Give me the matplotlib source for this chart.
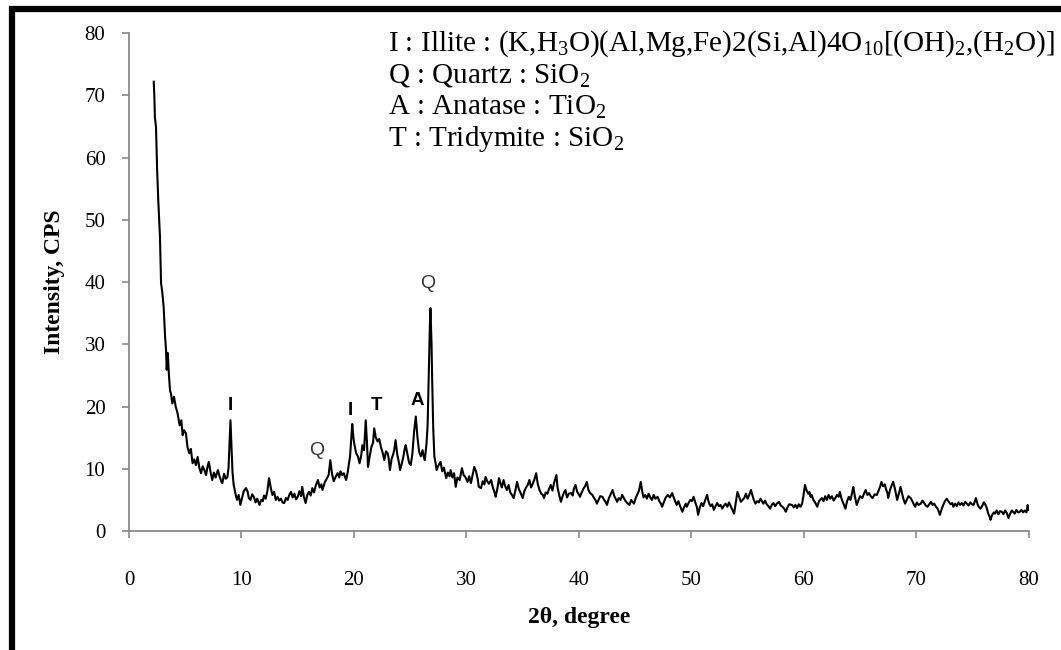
import matplotlib
matplotlib.use("Agg")
import matplotlib.pyplot as plt
from matplotlib.patches import Rectangle

plt.rcParams['font.family'] = ['Liberation Serif', 'DejaVu Serif']
plt.rcParams['mathtext.fontset'] = 'custom'
plt.rcParams['mathtext.rm'] = 'Liberation Serif'
plt.rcParams['mathtext.it'] = 'Liberation Serif:italic'
plt.rcParams['mathtext.bf'] = 'Liberation Serif:bold'

# XRD scan, 2-theta (degree) vs intensity (CPS)
two_theta = [
    2.20, 2.25, 2.30, 2.40, 2.50, 2.60, 2.70, 2.75, 2.85, 2.95, 3.08, 3.20, 3.29, 3.35, 3.45, 3.55,
    3.65, 3.73, 3.85, 4.00, 4.15, 4.32, 4.50, 4.65, 4.77, 4.90, 5.06, 5.20, 5.36, 5.50, 5.65, 5.80,
    5.95, 6.10, 6.25, 6.40, 6.55, 6.70, 6.85, 7.00, 7.10, 7.25, 7.40, 7.55, 7.70, 7.90, 8.05, 8.20,
    8.30, 8.45, 8.60, 8.75, 8.85, 8.95, 9.02, 9.10, 9.20, 9.30, 9.45, 9.60, 9.75, 9.90, 10.05, 10.20,
    10.40, 10.55, 10.65, 10.80, 10.95, 11.10, 11.25, 11.40, 11.60, 11.75, 11.90, 12.00, 12.15, 12.30,
    12.45, 12.60, 12.75, 12.90, 13.05, 13.20, 13.35, 13.50, 13.65, 13.80, 13.95, 14.10, 14.25, 14.40,
    14.55, 14.70, 14.85, 15.00, 15.15, 15.30, 15.40, 15.55, 15.70, 15.85, 16.00, 16.15, 16.30, 16.45,
    16.60, 16.80, 16.95, 17.10, 17.20, 17.40, 17.55, 17.75, 17.90, 18.05, 18.20, 18.40, 18.55, 18.70,
    18.80, 18.95, 19.10, 19.30, 19.45, 19.55, 19.65, 19.75, 19.85, 19.95, 20.05, 20.20, 20.35, 20.50,
    20.65, 20.75, 20.90, 21.05, 21.15, 21.25, 21.40, 21.55, 21.70, 21.80, 21.95, 22.10, 22.25, 22.40,
    22.55, 22.70, 22.85, 23.00, 23.10, 23.20, 23.35, 23.50, 23.60, 23.70, 23.85, 24.00, 24.10, 24.25,
    24.40, 24.50, 24.60, 24.75, 24.90, 25.05, 25.20, 25.35, 25.50, 25.65, 25.80, 25.95, 26.10, 26.20,
    26.30, 26.45, 26.55, 26.65, 26.75, 26.80, 26.90, 26.95, 27.05, 27.15, 27.25, 27.35, 27.50, 27.70,
    27.85, 28.00, 28.20, 28.35, 28.50, 28.60, 28.75, 28.90, 29.05, 29.20, 29.40, 29.60, 29.75, 29.90,
    30.10, 30.25, 30.40, 30.55, 30.70, 30.85, 31.00, 31.10, 31.30, 31.45, 31.60, 31.70, 31.85, 32.00,
    32.20, 32.35, 32.50, 32.60, 32.75, 32.90, 33.05, 33.15, 33.30, 33.45, 33.60, 33.75, 33.90, 34.05,
    34.20, 34.35, 34.50, 34.65, 34.80, 35.00, 35.15, 35.30, 35.45, 35.60, 35.75, 35.90, 36.05, 36.20,
    36.35, 36.50, 36.65, 36.80, 36.90, 37.05, 37.20, 37.35, 37.50, 37.65, 37.80, 37.90, 38.00, 38.10,
    38.25, 38.40, 38.55, 38.70, 38.80, 38.95, 39.10, 39.30, 39.45, 39.55, 39.70, 39.85, 40.00, 40.10,
    40.25, 40.40, 40.55, 40.70, 40.85, 41.00, 41.20, 41.35, 41.50, 41.60, 41.75, 41.90, 42.10, 42.25,
    42.40, 42.50, 42.65, 42.80, 43.00, 43.15, 43.30, 43.40, 43.55, 43.70, 43.85, 44.00, 44.15, 44.30,
    44.50, 44.65, 44.80, 44.90, 45.05, 45.20, 45.35, 45.50, 45.65, 45.75, 45.90, 46.05, 46.20, 46.35,
    46.50, 46.65, 46.80, 47.00, 47.15, 47.30, 47.40, 47.55, 47.70, 47.90, 48.10, 48.30, 48.45, 48.60,
    48.70, 48.85, 49.00, 49.20, 49.35, 49.50, 49.60, 49.75, 49.90, 50.05, 50.20, 50.35, 50.50, 50.60,
    50.75, 50.90, 51.05, 51.20, 51.40, 51.55, 51.70, 51.85, 52.00, 52.15, 52.30, 52.45, 52.60, 52.75,
    52.90, 53.05, 53.20, 53.35, 53.50, 53.65, 53.80, 53.95, 54.10, 54.25, 54.40, 54.55, 54.70, 54.85,
    55.00, 55.15, 55.30, 55.45, 55.55, 55.70, 55.85, 56.00, 56.15, 56.30, 56.40, 56.55, 56.70, 56.85,
    57.00, 57.15, 57.30, 57.45, 57.60, 57.80, 57.95, 58.10, 58.25, 58.40, 58.55, 58.70, 58.95, 59.10,
    59.25, 59.40, 59.55, 59.70, 59.85, 59.95, 60.10, 60.25, 60.40, 60.50, 60.60, 60.70, 60.85, 61.00,
    61.20, 61.35, 61.60, 61.75, 61.90, 62.05, 62.20, 62.35, 62.50, 62.65, 62.80, 62.95, 63.10, 63.20,
    63.35, 63.50, 63.70, 63.85, 64.00, 64.15, 64.30, 64.40, 64.55, 64.70, 64.85, 65.00, 65.20, 65.35,
    65.50, 65.65, 65.80, 65.95, 66.10, 66.30, 66.50, 66.65, 66.80, 66.90, 67.05, 67.20, 67.30, 67.45,
    67.50, 67.65, 67.80, 67.95, 68.10, 68.30, 68.45, 68.60, 68.75, 68.85, 69.00, 69.15, 69.30, 69.50,
    69.65, 69.80, 69.90, 70.05, 70.20, 70.40, 70.55, 70.70, 70.85, 71.00, 71.15, 71.30, 71.45, 71.60,
    71.75, 71.90, 72.10, 72.25, 72.40, 72.55, 72.70, 72.90, 73.05, 73.20, 73.30, 73.45, 73.60, 73.75,
    73.90, 74.05, 74.20, 74.35, 74.50, 74.65, 74.80, 74.95, 75.10, 75.30, 75.45, 75.55, 75.70, 75.85,
    76.00, 76.10, 76.25, 76.40, 76.55, 76.60, 76.75, 76.90, 77.00, 77.15, 77.30, 77.45, 77.60, 77.75,
    77.90, 78.05, 78.20, 78.35, 78.50, 78.60, 78.75, 78.90, 79.05, 79.20, 79.35, 79.50, 79.65, 79.80,
    79.90, 80.00,
]
intensity = [
    72.2, 70.0, 66.5, 64.9, 58.0, 53.2, 49.0, 47.3, 39.8, 38.5, 36.0, 31.5, 29.1, 25.9, 28.6, 25.0,
    22.5, 22.1, 20.5, 21.6, 20.0, 18.9, 17.0, 17.8, 15.4, 16.2, 15.7, 13.5, 12.5, 13.2, 10.9, 11.5,
    10.6, 11.9, 10.2, 9.3, 10.4, 9.8, 9.0, 10.5, 11.1, 9.5, 8.2, 9.4, 8.6, 9.8, 8.8, 8.0,
    7.7, 9.2, 8.4, 8.7, 10.2, 14.5, 17.8, 14.0, 9.5, 7.5, 6.1, 5.0, 5.8, 4.2, 5.3, 6.4,
    6.9, 6.3, 5.3, 5.0, 5.9, 5.5, 4.6, 5.2, 4.2, 5.0, 4.8, 5.7, 5.2, 6.4,
    8.5, 7.0, 5.8, 6.3, 5.0, 5.5, 4.9, 5.2, 4.6, 4.5, 5.3, 5.0, 5.8, 6.3,
    5.4, 6.0, 5.1, 5.5, 6.4, 5.6, 7.1, 5.5, 4.5, 5.8, 6.3, 5.7, 6.9, 6.2,
    7.3, 8.2, 7.0, 7.5, 6.6, 7.8, 8.3, 9.0, 11.4, 9.2, 8.0, 8.8, 9.3, 8.6,
    9.6, 9.0, 9.3, 8.2, 9.5, 10.8, 11.9, 14.5, 17.2, 15.0, 13.8, 12.5, 12.0, 10.9,
    12.2, 13.8, 13.0, 17.8, 14.5, 10.3, 12.0, 13.5, 14.2, 16.5, 15.0, 14.4, 14.8, 13.5,
    12.6, 11.4, 12.8, 12.5, 11.5, 9.8, 11.6, 12.4, 13.2, 14.6, 12.3, 11.0, 9.8, 10.8,
    12.0, 13.1, 13.8, 12.4, 11.0, 10.6, 12.5, 16.0, 18.4, 15.0, 12.7, 12.0, 13.0, 12.0,
    11.4, 14.0, 17.0, 25.0, 33.0, 35.8, 30.0, 24.8, 16.5, 12.0, 11.0, 9.8, 10.5, 11.1,
    9.6, 10.2, 8.5, 9.4, 8.8, 9.8, 8.6, 9.3, 7.1, 8.6, 8.2, 10.1, 9.0, 8.7,
    7.9, 8.8, 7.7, 9.0, 10.3, 9.6, 8.4, 7.1, 6.9, 8.0, 7.5, 8.7, 8.0, 7.6,
    8.2, 7.0, 6.2, 5.5, 6.8, 8.5, 7.5, 7.0, 8.2, 7.2, 6.6, 7.4, 6.2, 5.8,
    5.3, 6.5, 7.9, 6.8, 6.2, 5.3, 6.4, 7.0, 7.4, 8.2, 7.0, 7.6, 8.3, 9.3,
    7.5, 6.6, 6.0, 5.8, 5.3, 6.2, 6.0, 6.8, 7.4, 6.5, 7.8, 8.4, 9.0, 7.0,
    5.8, 4.7, 5.6, 6.3, 6.6, 5.4, 6.0, 6.1, 5.7, 6.8, 7.4, 6.3, 5.9, 5.5,
    6.2, 6.8, 7.2, 7.9, 6.6, 6.1, 5.8, 5.3, 4.9, 4.4, 5.0, 5.6, 5.5, 5.0,
    4.6, 4.2, 5.2, 5.8, 6.6, 5.6, 5.1, 4.7, 5.3, 5.0, 5.8, 5.3, 4.8, 4.5,
    4.2, 5.0, 4.6, 4.4, 5.3, 5.9, 6.5, 7.9, 6.2, 5.4, 5.8, 5.2, 6.0, 5.4,
    5.0, 5.8, 5.2, 5.5, 4.8, 4.4, 3.9, 4.6, 5.3, 5.8, 5.4, 6.1, 5.3, 4.6,
    4.2, 4.8, 4.0, 3.1, 3.8, 4.4, 3.9, 4.5, 5.0, 4.8, 5.5, 4.6, 3.8, 2.6,
    3.8, 4.5, 4.0, 4.8, 5.8, 4.6, 4.0, 4.3, 3.4, 4.0, 4.5, 4.0, 4.2, 3.6,
    4.1, 4.4, 3.9, 4.6, 4.0, 3.4, 2.8, 4.5, 6.3, 5.5, 4.7, 5.0, 5.3, 6.0,
    5.2, 5.8, 6.6, 5.6, 5.0, 4.4, 4.8, 4.6, 5.2, 4.7, 4.4, 4.9, 4.3, 4.0,
    3.6, 4.2, 4.5, 4.0, 4.4, 4.7, 4.1, 3.9, 3.6, 3.1, 3.8, 4.3, 4.2, 3.8,
    4.2, 3.7, 4.3, 3.9, 4.4, 5.5, 7.4, 6.5, 6.0, 6.3, 5.5, 5.8, 5.0, 4.6,
    3.9, 4.8, 5.3, 4.8, 5.6, 5.0, 5.8, 5.2, 5.6, 4.9, 5.3, 5.8, 5.5, 6.3,
    5.2, 4.5, 3.6, 4.8, 5.5, 5.0, 6.2, 7.1, 5.5, 4.2, 4.9, 5.6, 5.3, 6.0,
    6.6, 5.8, 6.1, 5.6, 5.3, 5.9, 5.8, 6.5, 7.2, 7.9, 7.2, 7.5, 6.8, 6.0,
    5.3, 6.5, 7.3, 7.9, 6.8, 5.0, 6.0, 7.1, 6.0, 5.2, 4.4, 5.0, 5.6, 5.3,
    4.8, 4.2, 3.9, 4.6, 4.2, 4.4, 4.9, 4.5, 4.1, 3.9, 4.3, 4.7, 4.2, 4.4,
    3.9, 3.6, 2.6, 3.5, 4.2, 4.8, 5.2, 4.7, 4.3, 4.5, 3.9, 4.4, 4.0, 4.6,
    4.2, 4.5, 4.1, 4.7, 4.4, 4.1, 4.6, 4.3, 4.2, 5.3, 4.3, 3.9, 3.6, 4.0,
    4.6, 4.4, 3.8, 2.8, 2.2, 1.8, 2.6, 3.0, 2.8, 3.3, 2.7, 3.2, 3.1, 2.7,
    3.3, 2.9, 2.1, 2.8, 3.3, 3.1, 2.8, 3.4, 3.0, 3.1, 3.4, 3.0, 3.3, 3.0,
    4.2, 3.4,
]

# phase markers above the peaks
peak_labels = ['I', 'Q', 'I', 'T', 'A', 'Q']
peak_x = [9.0, 16.7, 19.7, 22.0, 25.6, 26.6]
peak_y = [20.2, 13.0, 19.4, 20.2, 21.0, 39.7]

phase_lines = [
    r'I : Illite : (K,H$_3$O)(Al,Mg,Fe)2(Si,Al)4O$_{10}$[(OH)$_2$,(H$_2$O)]',
    r'Q : Quartz : SiO$_2$',
    r'A : Anatase : TiO$_2$',
    r'T : Tridymite : SiO$_2$',
]

fig = plt.figure(figsize=(10.61, 6.5), dpi=100)
ax = fig.add_axes([0.1216, 0.183, 0.848, 0.766])

ax.plot(two_theta, intensity, color='black', linewidth=1.5)

ax.set_xlim(0, 80)
ax.set_ylim(0, 80)
ax.set_xticks(range(0, 81, 10))
ax.set_yticks(range(0, 81, 10))

for side in ('top', 'right'):
    ax.spines[side].set_visible(False)
for side in ('left', 'bottom'):
    ax.spines[side].set_color('#8a8a8a')
    ax.spines[side].set_linewidth(1.3)
ax.tick_params(axis='both', direction='out', length=5, width=1.2, color='#8a8a8a',
               labelsize=15, labelcolor='black')
ax.tick_params(axis='x', pad=24)
ax.tick_params(axis='y', pad=12)

ax.set_xlabel('2θ, degree', fontsize=17, fontweight='bold', labelpad=12)
ax.set_ylabel('Intensity, CPS', fontsize=17, fontweight='bold', labelpad=14)

for lab, x, y in zip(peak_labels, peak_x, peak_y):
    if lab == 'Q':
        ax.text(x, y, lab, ha='center', va='center', fontsize=14,
                family='Liberation Sans', color='#333333')
    else:
        ax.text(x, y, lab, ha='center', va='center', fontsize=13.5,
                family='Liberation Sans', fontweight='bold')

for i, line in enumerate(phase_lines):
    fig.text(388 / 1061, 1 - (44 + i * 31.5) / 650, line, fontsize=21,
             ha='left', va='center', color='black')

# black frame round the figure
fig.patches.append(Rectangle((12 / 1061, -0.1), 1.2, 1.1 - 9 / 650, transform=fig.transFigure,
                             fill=False, edgecolor='black', linewidth=4.5))

fig.savefig('out.png', dpi=100)
